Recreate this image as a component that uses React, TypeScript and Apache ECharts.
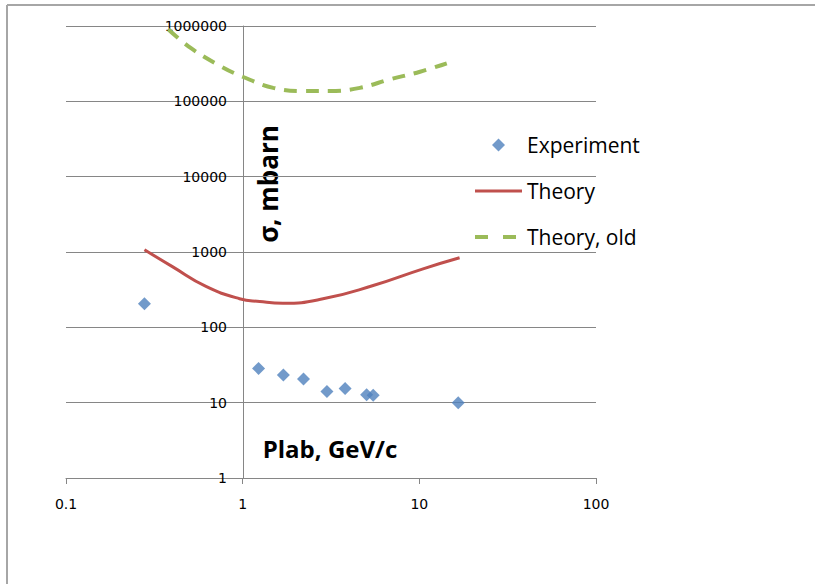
import React, { useEffect, useRef } from "react";
import * as echarts from "echarts";

const xTicks = [0.1, 1, 10, 100];
const yTicks = [1, 10, 100, 1000, 10000, 100000, 1000000];

const expX = [0.278, 1.23, 1.7, 2.21, 3.0, 3.8, 5.03, 5.48, 16.6];
const expY = [205, 28.5, 23.3, 20.6, 14.1, 15.4, 12.7, 12.5, 10.0];

const theoryX = [0.278, 0.4, 0.62, 0.96, 1.25, 1.69, 2.85, 5.48, 10.5, 16.9];
const theoryY = [1070, 640, 350, 240, 220, 209, 239, 359, 598, 838];

const oldX = [0.38, 0.51, 0.76, 1.0, 1.49, 2.2, 3.11, 4.61, 6.82, 10.1, 14.3];
const oldY = [900000, 507000, 288000, 212000, 151000, 137000, 137000, 151000, 196000, 247000, 320000];

const seriesNames = ["Experiment", "Theory", "Theory, old"];

const fmt = (v: number) => String(Number(v.toPrecision(6)));

export default function App() {
  const ref = useRef<HTMLDivElement>(null);
  useEffect(() => {
    if (!ref.current) return;
    const chart = echarts.init(ref.current, null, { renderer: "svg" });
    const gray = "#868686";
    const hidden = { color: "transparent", borderWidth: 0, opacity: 0 };
    chart.setOption({
      animation: false,
      backgroundColor: "#ffffff",
      grid: { left: 66, right: 219, top: 26, bottom: 106 },
      xAxis: {
        type: "log",
        logBase: 10,
        min: xTicks[0],
        max: xTicks[xTicks.length - 1],
        axisLine: { show: true, onZero: false, lineStyle: { color: gray, width: 1 } },
        axisTick: { show: true, length: 6, lineStyle: { color: gray } },
        splitLine: { show: false },
        minorTick: { show: false },
        axisLabel: {
          formatter: fmt,
          fontFamily: "DejaVu Sans",
          fontSize: 14,
          color: "#000",
          margin: 19,
        },
      },
      yAxis: {
        type: "log",
        logBase: 10,
        min: yTicks[0],
        max: yTicks[yTicks.length - 1],
        offset: -177,
        axisLine: { show: true, onZero: false, lineStyle: { color: gray, width: 1 } },
        axisTick: { show: false },
        splitLine: { show: true, lineStyle: { color: gray, width: 1 } },
        axisLabel: {
          formatter: fmt,
          fontFamily: "DejaVu Sans",
          fontSize: 14,
          color: "#000",
          margin: 16,
        },
      },
      legend: {
        orient: "vertical",
        left: 473,
        top: 133,
        padding: 0,
        itemWidth: 47,
        itemHeight: 13,
        itemGap: 22,
        symbolKeepAspect: true,
        textStyle: { fontFamily: "Open Sans", fontSize: 21, color: "#000", lineHeight: 24 },
        data: [
          {
            name: seriesNames[0],
            icon: "path://M0,-1L1,0L0,1L-1,0Z",
            itemStyle: { color: "#4F81BD" },
          },
          { name: seriesNames[1], itemStyle: hidden, lineStyle: { width: 3, color: "#C0504D" } },
          {
            name: seriesNames[2],
            itemStyle: hidden,
            lineStyle: { width: 4, color: "#9BBB59", type: [13, 15] },
          },
        ],
      },
      series: [
        {
          name: seriesNames[0],
          type: "scatter",
          symbol: "diamond",
          symbolSize: 13,
          itemStyle: { color: "#4F81BD" },
          data: expX.map((x, i) => [x, expY[i]]),
          z: 5,
        },
        {
          name: seriesNames[1],
          type: "line",
          symbol: "none",
          smooth: 0.5,
          lineStyle: { color: "#C0504D", width: 3 },
          itemStyle: { color: "#C0504D" },
          data: theoryX.map((x, i) => [x, theoryY[i]]),
        },
        {
          name: seriesNames[2],
          type: "line",
          symbol: "none",
          smooth: 0.4,
          lineStyle: { color: "#9BBB59", width: 4, type: [13, 9] },
          itemStyle: { color: "#9BBB59" },
          data: oldX.map((x, i) => [x, oldY[i]]),
        },
      ],
      graphic: [
        { type: "line", shape: { x1: 7, y1: 5, x2: 815, y2: 5 }, style: { stroke: "#A6A6A6", lineWidth: 2 } },
        { type: "line", shape: { x1: 7, y1: 5, x2: 7, y2: 584 }, style: { stroke: "#A6A6A6", lineWidth: 2 } },
        {
          type: "text",
          x: 268,
          y: 184,
          rotation: Math.PI / 2,
          style: {
            text: "σ, mbarn",
            fontFamily: "Open Sans",
            fontWeight: "bold",
            fontSize: 26,
            fill: "#000",
            align: "center",
            verticalAlign: "middle",
          },
        },
        {
          type: "text",
          x: 330,
          y: 448,
          style: {
            text: "Plab, GeV/c",
            fontFamily: "Open Sans",
            fontWeight: "bold",
            fontSize: 24,
            fill: "#000",
            align: "center",
            verticalAlign: "middle",
          },
        },
      ],
    });
    return () => chart.dispose();
  }, []);
  return (
    <div
      ref={ref}
      style={{ position: "fixed", left: 0, top: 0, width: 815, height: 584, background: "#fff" }}
    />
  );
}
